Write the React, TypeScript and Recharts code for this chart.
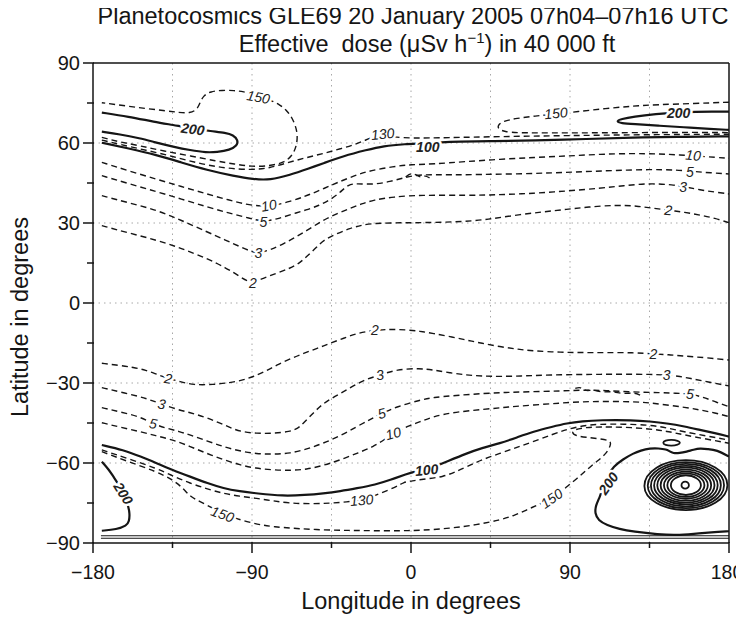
import React from 'react';
import { LineChart, Line, XAxis, YAxis, ReferenceLine, ReferenceDot } from 'recharts';

type P = [number, number];

// ---------- tick / grid values ----------
const xTicks = [-180, -135, -90, -45, 0, 45, 90, 135, 180];
const yTicks = [-90, -75, -60, -45, -30, -15, 0, 15, 30, 45, 60, 75, 90];
const gridLons = [-135, -90, -45, 0, 45, 90, 135];
const gridLats = [-60, -30, 0, 30, 60];

// ---------- northern contours (lon, lat) ----------
const n150West: P[] = [[-175,62.1],[-165,60.4],[-153,58.9],[-140,57.0],[-125,55.2],[-110,53.2],[-100,52.1],[-90,51.1],[-80,51.4],[-72,52.6],[-67.5,55],[-64.8,58.6],[-64,63.6],[-66.5,68.6],[-70,72],[-74,74.3],[-80,76.2],[-88,78],[-95,79.3],[-100,79.7],[-107,79.8],[-113.5,79.3],[-117.5,77.8],[-119.5,75],[-121,72.6],[-125,71.1],[-132,71.5],[-140,72.2],[-150,72.9],[-160,73.8],[-175,75.1]];
const n200West: P[] = [[-175,71.4],[-160,69.9],[-145,67.9],[-134.5,66.75],[-125,65.6],[-112.8,64.4],[-105,63.8],[-100.6,63],[-97.8,61],[-98.5,59],[-102.5,57.4],[-110,56.6],[-115.7,56.4],[-125,57.3],[-134.5,58.6],[-145,60.3],[-153.4,61.75],[-165,63.3],[-175,64.25]];
const n130: P[] = [[-175,61.1],[-165,59.5],[-150,57.3],[-135,55.0],[-120,52.3],[-105,50.5],[-90,49.9],[-80,50.6],[-70,52.6],[-60,54.4],[-50,56.0],[-40,57.8],[-30,59.8],[-22,62.2],[-16,63.2],[-10,62.2],[0,61.8],[20,62.0],[50,62.4],[90,62.8],[130,63.1],[180,63.3]];
const n100: P[] = [[-175,60.1],[-160,58],[-144,55.5],[-130,52.7],[-115.7,49.9],[-100,47.6],[-89.2,46.4],[-79.8,46.1],[-68.5,48],[-58,50.4],[-49.6,52.4],[-38.3,55.1],[-25.1,57.4],[-15.7,58.9],[-3.4,59.6],[8,59.9],[20.2,60.5],[45,60.7],[69.2,60.9],[100,61.5],[125.8,62.1],[150,62.3],[180,62.5]];
const n150East: P[] = [[180,75.3],[160,74.8],[140,74.4],[125.8,73.9],[110,72.9],[94,71.75],[82,70.9],[70,70.1],[59.8,69.25],[52,68.2],[49,66.6],[49.5,65.2],[53,64.2],[60,63.8],[80,63.8],[100,63.8],[130,63.9],[160,64.0],[180,63.9]];
const n200East: P[] = [[180,71.8],[170,71.8],[161.7,71.75],[150,71.4],[139,70.9],[125.8,69.9],[119,69],[116,68.1],[119,67.4],[125.8,67.1],[140,66.5],[154.1,65.9],[170,65.3],[180,64.9]];
const n10: P[] = [[-175,52.75],[-160,49.6],[-144,46.4],[-130,43.7],[-115.7,40.9],[-103,38.6],[-93,36.9],[-85,36.3],[-78,36.5],[-68.5,38],[-60,40],[-53.4,41.75],[-45,44.2],[-38.3,46.1],[-30,48.2],[-23.2,49.6],[-10,51.2],[0,51.9],[12.6,52.1],[30,53],[50.4,53.9],[70,54.6],[88.1,55.1],[107,55.8],[125.8,56.1],[140,55.9],[150.4,55.6],[160,55.2],[173,54.6],[180,54.25]];
const n5: P[] = [[-175,47.75],[-160,44.8],[-144,41.75],[-130,39],[-115.7,36.1],[-103,33.7],[-91.1,31.75],[-84,30.5],[-76,31.4],[-68,33.2],[-59.1,34.9],[-52,36.6],[-45.9,38.6],[-40,41.5],[-35.5,44.5],[-30.8,44.8],[-21.3,44.4],[-11.9,45.5],[-3,47.2],[5.1,48.2],[22.1,48],[40,48.2],[59.8,48.4],[80,48.8],[97.5,49.25],[115,49.7],[135.3,50.1],[150.4,49.9],[160,49.3],[170,48.8],[180,48.4]];
const n5Blip: P[] = [[-3,47.3],[0,48.8],[3,48.1],[5.5,47.0],[8,47.9],[10.5,46.9]];
const n3: P[] = [[-175,40.25],[-160,37.6],[-144,34.9],[-130,31],[-115.7,26.75],[-105,23.6],[-96.8,21.1],[-90,19.2],[-86.4,18.6],[-79.8,19.9],[-72,22.2],[-64.7,24.9],[-57,28],[-49.6,31.1],[-42,33.5],[-34.5,35.5],[-28,37.2],[-21.3,38.6],[-10,39.8],[5.1,40.5],[31.5,40.3],[50,40.6],[69.2,41.1],[88,42],[107,43],[120,44],[135.3,44.9],[148.5,44.3],[155,43.6],[163.6,42.4],[172,41.6],[180,40.9]];
const n2: P[] = [[-175,29],[-160,26.3],[-144,23.6],[-130,20.5],[-115.7,16.75],[-105,13.3],[-96.8,9.9],[-91.1,7.4],[-83.6,9.25],[-76,11.2],[-68.5,13],[-63,15],[-59.1,17.4],[-54,20.5],[-49.6,23.6],[-42,26],[-34.5,28],[-28,29.2],[-21.3,29.9],[-5,30.1],[5.1,30.1],[31.5,30.5],[45,31.5],[59.8,33],[75,34.2],[88.1,35.1],[100,36],[116.4,36.75],[128,36.4],[137.2,35.5],[146,34.8],[155,34],[163.6,33],[172,31.8],[180,30.1]];

// ---------- southern contours ----------
const s2: P[] = [[-175,-22.6],[-165,-23.4],[-157.2,-24.1],[-150,-25.2],[-144,-26.75],[-137.4,-28.3],[-130.8,-29.5],[-123.2,-30.75],[-112,-30.6],[-102.5,-29.9],[-95,-28.9],[-89.2,-27.6],[-82,-25.5],[-76,-23.25],[-68,-20.8],[-60.9,-18.9],[-53,-17],[-45.9,-15.1],[-38,-13.2],[-30.8,-11.4],[-20.4,-10.1],[-11.9,-9.9],[-3,-10],[5.1,-10.6],[12.6,-11.4],[22,-12.6],[31.5,-13.9],[40,-15.1],[50.4,-16.4],[60,-17.3],[69.2,-18],[85,-18.5],[97.5,-18.6],[110,-18.6],[125.8,-18.6],[137.2,-19.1],[146,-19.4],[154.1,-19.9],[167,-20.5],[180,-21.4]];
const s3: P[] = [[-175,-31.75],[-165,-33.3],[-153.4,-35.1],[-147,-36.5],[-141.1,-37.9],[-132.6,-39.9],[-125.1,-41.1],[-117,-42.7],[-110,-44.5],[-103,-46.5],[-96.8,-48.25],[-87.4,-48.9],[-78,-48.9],[-68.5,-48.25],[-64,-47],[-60.9,-45.1],[-55,-41],[-49.6,-37.6],[-43,-35],[-36.4,-32.6],[-27,-28.9],[-17.5,-27],[-8.1,-24.9],[5.1,-24.5],[12.6,-25.1],[22,-26.2],[31.5,-27],[40,-27.4],[50.4,-27.6],[65,-27.3],[78.7,-27],[95,-26.8],[107,-26.75],[120,-26.7],[135.3,-26.75],[144.7,-27],[151,-27.4],[157.9,-28.25],[168,-29.6],[180,-31.1]];
const s5: P[] = [[-175,-39.25],[-165,-40.8],[-153.4,-42.6],[-145.9,-45.4],[-138.3,-47],[-131,-48.2],[-125.1,-49.5],[-115,-51.8],[-106.2,-53.9],[-97,-55.5],[-87.4,-56.6],[-78,-56.7],[-68.5,-56.4],[-59,-54.8],[-49.6,-52.6],[-40,-49.8],[-30.8,-46.4],[-23,-43.6],[-16.6,-41.4],[-8.1,-38.9],[5.1,-36.4],[12.6,-35.4],[25,-34.7],[41,-33.9],[55,-33.5],[69.2,-33.25],[85,-33],[97.5,-32.6],[110,-32.8],[125.8,-33.4],[141,-33.6],[150,-33.8],[157.9,-34.1],[165,-35.2],[172,-37],[180,-38.9]];
const s5Blip: P[] = [[93,-32.0],[96,-31.4],[99,-33.2],[103,-32.4],[108,-33.6],[114,-33.0],[120,-34.2],[126,-33.5],[130,-34.6]];
const s10: P[] = [[-175,-44.9],[-165,-46.5],[-153.4,-48.25],[-144,-49.8],[-134.5,-51.4],[-125,-53.8],[-115.7,-56.4],[-106,-58.8],[-96.8,-60.75],[-88,-62],[-78,-62.6],[-68,-62.8],[-59.1,-62.4],[-50,-61],[-40.2,-58.9],[-30,-56.2],[-21.3,-53.9],[-15,-51.2],[-10,-48.9],[-2,-46.2],[5.1,-44.6],[12.6,-42.5],[25,-40.9],[41,-39.9],[55,-39],[69.2,-38.25],[85,-37.5],[97.5,-37],[110,-36.9],[125.8,-37],[135,-37.4],[144.7,-38.25],[155,-39.1],[163.6,-40.1],[172,-41.2],[180,-42.6]];
const s100: P[] = [[-175,-53.25],[-162.8,-55.1],[-153,-57.6],[-144,-60.1],[-135,-62.6],[-125.1,-65.1],[-115,-67.6],[-106.2,-69.5],[-97,-70.6],[-87.4,-71.4],[-72.3,-72.4],[-60,-72],[-49.6,-71.4],[-40,-70.6],[-30.8,-69.5],[-20,-68.1],[-11.9,-66.4],[-2.5,-64.1],[3,-63],[8.9,-62.6],[14,-61.2],[20.2,-59.5],[31.5,-56.4],[40,-54.4],[50.4,-52.6],[60,-50.4],[69.2,-48.25],[80,-46.4],[88.1,-45.1],[97,-44.3],[107,-43.9],[125.8,-43.9],[135,-44.4],[144.7,-45.1],[155,-46.3],[163.6,-47.6],[172,-48.8],[180,-50.1]];
const s130: P[] = [[-175,-55.1],[-160,-58.4],[-144,-62],[-135,-64.8],[-125.1,-67.6],[-115,-69.8],[-106.2,-71.4],[-97,-72.5],[-87.4,-73.25],[-78,-74.2],[-68.5,-75.1],[-57,-75.3],[-45.9,-75.1],[-36,-74.6],[-28.9,-73.9],[-22,-72.7],[-17.5,-71.4],[-8.1,-68.9],[-4.3,-67.2],[0,-66.8],[3.2,-66.4],[10,-65.9],[18.3,-65.1],[25,-63.4],[31.5,-61.4],[40,-58.8],[50.4,-56.4],[60,-54.1],[69.2,-52],[80,-49.3],[88.1,-47.4],[97,-46],[107,-45.4],[120,-45.4],[135.3,-45.75],[145,-46.8],[154.1,-48.25],[167,-49.8],[180,-51.4]];
const s150: P[] = [[-175,-55.75],[-160,-59.5],[-144,-63.25],[-135,-66.2],[-128.9,-69.5],[-125.1,-72.6],[-119.4,-74.5],[-112,-77],[-106.2,-78.9],[-100,-80.6],[-93,-82],[-85,-83.2],[-78,-83.9],[-65,-84.6],[-49.6,-85.1],[-35,-85.3],[-21.3,-85.4],[-6.2,-85.4],[5.1,-85.3],[22.1,-84.5],[37,-83.2],[50.4,-81.4],[58,-79.8],[65.5,-77.6],[72,-75.6],[79.6,-73.25],[85,-70.8],[88.1,-68.9],[94,-65.8],[99.4,-62.6],[105,-59.5],[110.8,-56.4],[113.6,-52.6],[112,-51.4],[105,-50.8],[99.4,-50.4],[93,-49.8],[91,-48.6],[92.5,-47.4],[99.4,-46.6],[107,-46.5],[120,-46.5],[135.3,-47.2],[145,-48.1],[154.1,-49.4],[167,-51],[180,-52.6]];
const s200West: P[] = [[-175,-59.5],[-171,-62.5],[-168.5,-65.1],[-165,-68.5],[-162.8,-71.4],[-160.5,-75],[-159.1,-78.9],[-159.6,-82],[-161,-83.5],[-166.6,-84.9],[-175,-85.4]];
const s200East: P[] = [[180,-57.6],[173,-55.1],[168,-54.8],[163.6,-54.5],[160,-55],[156,-55.75],[152,-56.3],[148.5,-56.4],[146,-55.5],[144.7,-54.9],[140,-54.5],[135.3,-54.5],[130,-55.3],[125.8,-56.4],[120,-58.6],[114.5,-61.4],[111.7,-64.5],[109,-68.5],[107,-72.6],[104.5,-76],[104.1,-78.9],[106,-81.5],[110.8,-83.3],[118,-84.8],[125.8,-85.75],[140,-86.8],[150,-87.1],[160,-86.6],[170,-86],[180,-85.6]];
const poleLineA: P[] = [[-175.5,-87.3],[180,-87.3]];
const poleLineB: P[] = [[-175.5,-88.2],[180,-88.2]];
const smallLoop: P[] = [[152.7,-52.4],[151.2,-51.6],[147.5,-51.2],[143.8,-51.5],[142.3,-52.4],[143.8,-53.3],[147.5,-53.6],[151.2,-53.2]];

// ---------- concentric maximum near 155E, 68S (control points) ----------
const ring1: P[] = [[181.64,-68.3],[174.01,-60.97],[155.6,-57.94],[137.19,-60.97],[129.56,-68.8],[137.19,-75.63],[155.6,-78.66],[174.01,-75.63]];
const ring2: P[] = [[179.53,-68.3],[172.52,-61.52],[155.6,-58.72],[138.68,-61.52],[131.67,-68.7],[138.68,-75.08],[155.6,-77.88],[172.52,-75.08]];
const ring3: P[] = [[177.54,-68.3],[171.11,-62.07],[155.6,-59.49],[140.09,-62.07],[133.66,-68.6],[140.09,-74.53],[155.6,-77.11],[171.11,-74.53]];
const ring4: P[] = [[175.54,-68.3],[169.7,-62.62],[155.6,-60.27],[141.5,-62.62],[135.66,-68.5],[141.5,-73.98],[155.6,-76.33],[169.7,-73.98]];
const ring5: P[] = [[173.55,-68.3],[168.29,-63.17],[155.6,-61.04],[142.91,-63.17],[137.65,-68.4],[142.91,-73.43],[155.6,-75.56],[168.29,-73.43]];
const ring6: P[] = [[171.44,-68.3],[166.8,-63.72],[155.6,-61.82],[144.4,-63.72],[139.76,-68.3],[144.4,-72.88],[155.6,-74.78],[166.8,-72.88]];
const ring7: P[] = [[169.34,-68.3],[165.32,-64.3],[155.6,-62.65],[145.88,-64.3],[141.86,-68.3],[145.88,-72.3],[155.6,-73.95],[165.32,-72.3]];
const ring8: P[] = [[167.23,-68.3],[163.83,-64.85],[155.6,-63.42],[147.37,-64.85],[143.97,-68.3],[147.37,-71.75],[155.6,-73.18],[163.83,-71.75]];
const ring9: P[] = [[165.02,-68.3],[162.26,-65.4],[155.6,-64.2],[148.94,-65.4],[146.18,-68.3],[148.94,-71.2],[155.6,-72.4],[162.26,-71.2]];
const ring10: P[] = [[157.53,-68.3],[156.85,-67.28],[155.2,-66.86],[153.55,-67.28],[152.87,-68.3],[153.55,-69.32],[155.2,-69.74],[156.85,-69.32]];

// ---------- contour labels: text, lon, lat, angle, bold ----------
const contourLabels: [string, number, number, number, number][] = [
  ['150', -86.4, 77.2, 10, 0], ['200', -123.5, 65.2, 8, 1], ['130', -16, 63.4, -5, 0],
  ['100', 9.5, 58.6, 0, 1], ['150', 82, 71.2, -5, 0], ['200', 151.5, 71.4, 0, 1],
  ['10', -80.5, 36.6, -10, 0], ['5', -83.6, 30.3, 0, 0], ['3', -86.4, 18.6, 0, 0],
  ['2', -89.5, 7.6, 0, 0], ['10', 159.8, 55.4, 5, 0], ['5', 157.9, 49.3, 0, 0],
  ['3', 154.1, 43.5, 0, 0], ['2', 145.7, 34.8, 5, 0],
  ['2', -137.4, -28.3, 10, 0], ['2', -20.4, -10.1, 0, 0], ['2', 137.2, -19.1, 0, 0],
  ['3', -141.1, -37.9, 10, 0], ['3', -17.5, -27, -10, 0], ['3', 144.7, -27, 0, 0],
  ['5', -145.9, -45.2, 10, 0], ['5', -16.6, -41.4, -15, 0], ['5', 157.9, -34.1, 5, 0],
  ['10', -10, -48.9, -15, 0], ['100', 8.9, -62.6, -5, 1], ['130', -27.9, -73.9, -5, 0],
  ['150', -106.7, -79.2, 20, 0], ['150', 79.6, -73.25, -35, 0],
  ['200', -162.8, -71.4, 58, 1], ['200', 111.7, -67.6, -55, 1],
];

const dashedContours: P[][] = [n150West, n130, n150East, n10, n5, n5Blip, n3, n2, s2, s3, s5, s5Blip, s10, s130, s150];
const solidContours: P[][] = [n200West, n100, n200East, s100, s200West, s200East];
const thinLines: P[][] = [poleLineA, poleLineB];
const closedContours: P[][] = [smallLoop, ring1, ring2, ring3, ring4, ring5, ring6, ring7, ring8, ring9, ring10];

const rows = (pts: P[]) => pts.map(([lon, lat]) => ({ lon, lat }));
const fmt = (v: number) => (v < 0 ? '\u2212' + Math.abs(v) : String(v));
const INK = '#151515';

const XTick = (props: any) => {
  const { x, y, payload } = props;
  const v = payload.value as number;
  const major = v % 90 === 0;
  return (
    <g>
      <line x1={x} x2={x} y1={y - 1} y2={y + (major ? 10 : 5)} stroke={INK} strokeWidth={1.5} />
      {major && (
        <text x={v === 180 ? x - 2 : x} y={y + 36} textAnchor="middle" fontSize={19.5} fill={INK}>{fmt(v)}</text>
      )}
    </g>
  );
};

const YTick = (props: any) => {
  const { x, y, payload } = props;
  const v = payload.value as number;
  const major = v % 30 === 0;
  return (
    <g>
      <line x1={x - (major ? 10 : 6)} x2={x + 1} y1={y} y2={y} stroke={INK} strokeWidth={1.5} />
      {major && (
        <text x={x - 13} y={y + 7} textAnchor="end" fontSize={20} fill={INK}>{fmt(v)}</text>
      )}
    </g>
  );
};

const YLabel = (props: any) => {
  const vb = props.viewBox || { x: 0, y: 55, width: 85, height: 480 };
  const cx = 12;
  const cy = vb.y + vb.height / 2 + 14;
  return (
    <text x={cx} y={cy} transform={`rotate(-90 ${cx} ${cy})`} textAnchor="middle" dominantBaseline="central" fontSize={23.5} fill={INK}>
      Latitude in degrees
    </text>
  );
};

const makeLabelShape = (text: string, angle: number, bold: number) => (p: any) => {
  const cx = p.cx, cy = p.cy;
  return (
    <text
      x={cx}
      y={cy}
      textAnchor="middle"
      dominantBaseline="central"
      transform={`rotate(${angle} ${cx} ${cy})`}
      fontSize={14}
      fontStyle="italic"
      fontWeight={bold ? 'bold' : 'normal'}
      fill="#222"
      stroke="#fff"
      strokeWidth={5}
      strokeLinejoin="round"
      paintOrder="stroke"
    >
      {text}
    </text>
  );
};

export default function App() {
  return (
    <div style={{ position: 'relative', width: 736, height: 611, fontFamily: '"Liberation Sans", Arial, sans-serif', color: INK }}>
      <div style={{ position: 'absolute', left: 45, top: -3, width: 720, textAlign: 'center', fontSize: 23.5, lineHeight: '22px', whiteSpace: 'nowrap' }}>
        Planetocosmics GLE69 20 January 2005 07h04–07h16 UTC
      </div>
      <div style={{ position: 'absolute', left: 119, top: 25, width: 600, textAlign: 'center', fontSize: 23.5, lineHeight: '22px', whiteSpace: 'nowrap' }}>
        Effective&nbsp; dose (μSv h<span style={{ fontSize: 15, position: 'relative', top: -9 }}>−1</span>) in 40 000 ft
      </div>
      <LineChart width={736} height={611} margin={{ top: 55, right: 15, bottom: 0, left: 0 }}>
        <XAxis
          type="number"
          dataKey="lon"
          domain={[-180, 180]}
          allowDataOverflow
          ticks={xTicks}
          interval={0}
          tick={<XTick />}
          tickLine={false}
          tickSize={0}
          tickMargin={0}
          height={76}
          axisLine={{ stroke: INK, strokeWidth: 1.5 }}
          label={{ value: 'Longitude in degrees', position: 'insideBottom', offset: 10, fontSize: 23.5, fill: INK }}
        />
        <YAxis
          type="number"
          dataKey="lat"
          domain={[-90, 90]}
          allowDataOverflow
          ticks={yTicks}
          interval={0}
          tick={<YTick />}
          tickLine={false}
          tickSize={0}
          tickMargin={0}
          width={85}
          axisLine={{ stroke: INK, strokeWidth: 1.5 }}
          label={<YLabel />}
        />
        {gridLons.map((v) => (
          <ReferenceLine key={'gx' + v} x={v} stroke="#a8a8a8" strokeWidth={1} strokeDasharray="1.5 4" />
        ))}
        {gridLats.map((v) => (
          <ReferenceLine key={'gy' + v} y={v} stroke="#a8a8a8" strokeWidth={1} strokeDasharray="1.5 4" />
        ))}
        <ReferenceLine y={90} stroke={INK} strokeWidth={1.5} />
        <ReferenceLine x={180} stroke={INK} strokeWidth={1.5} />
        {thinLines.map((c, i) => (
          <Line key={'t' + i} data={rows(c)} dataKey="lat" type="linear" stroke={INK} strokeWidth={1.1} dot={false} activeDot={false} isAnimationActive={false} />
        ))}
        {dashedContours.map((c, i) => (
          <Line key={'d' + i} data={rows(c)} dataKey="lat" type="basis" stroke={INK} strokeWidth={1.4} strokeDasharray="6 4" dot={false} activeDot={false} isAnimationActive={false} />
        ))}
        {solidContours.map((c, i) => (
          <Line key={'s' + i} data={rows(c)} dataKey="lat" type="basis" stroke={INK} strokeWidth={2.2} dot={false} activeDot={false} isAnimationActive={false} />
        ))}
        {closedContours.map((c, i) => (
          <Line key={'c' + i} data={rows(c)} dataKey="lat" type="basisClosed" stroke={INK} strokeWidth={1.8} dot={false} activeDot={false} isAnimationActive={false} />
        ))}
        {contourLabels.map(([t, lon, lat, ang, b], i) => (
          <ReferenceDot key={'l' + i} x={lon} y={lat} r={1} fill="none" stroke="none" shape={makeLabelShape(t, ang, b)} />
        ))}
      </LineChart>
    </div>
  );
}
